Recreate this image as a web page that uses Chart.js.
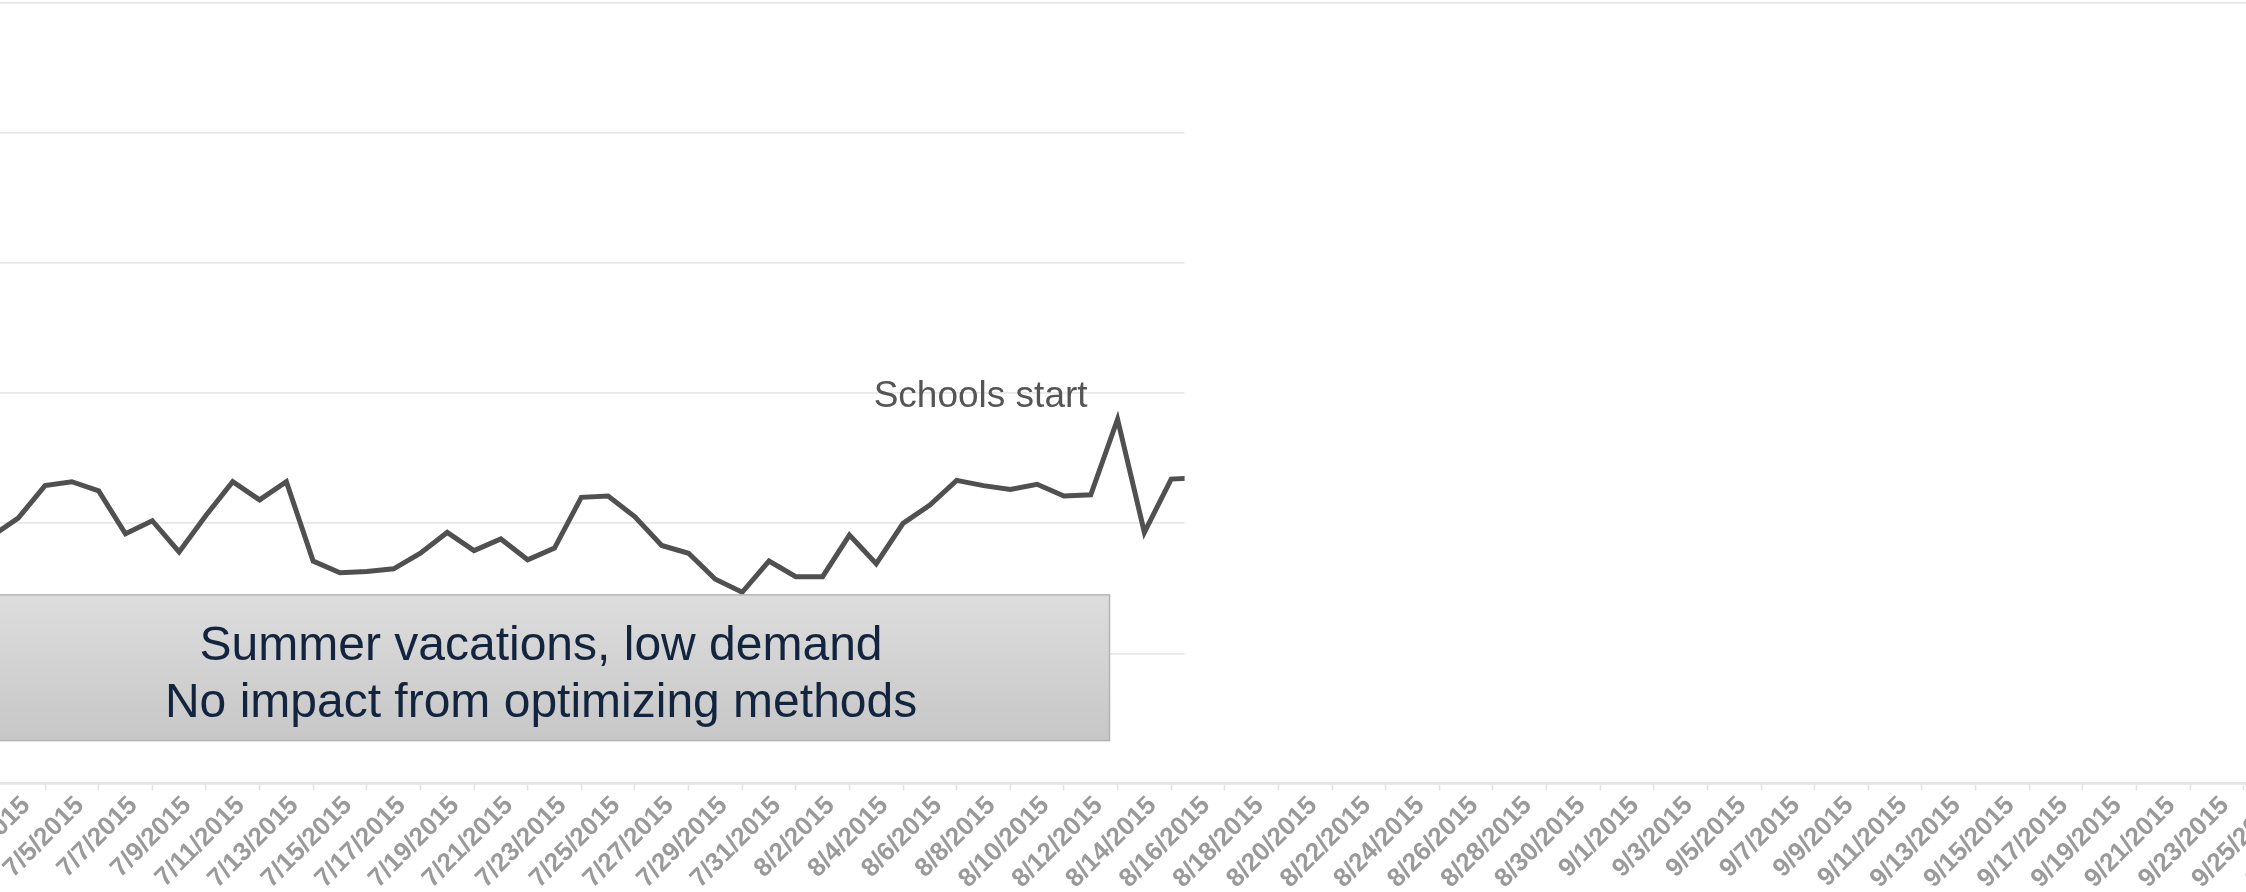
<!DOCTYPE html>
<html>
<head>
<meta charset="utf-8">
<title>Daily demand, summer 2015</title>
<script src="https://cdn.jsdelivr.net/npm/chart.js@4.4.1/dist/chart.umd.min.js"></script>
<style>
  html, body { margin: 0; padding: 0; background: #fff; overflow: hidden; }
  #wrap { position: relative; width: 2246px; height: 892px; overflow: hidden; }
  /* plot is wider than the page, both ends run off the edges */
  #demandChart { position: absolute; left: -22px; top: 0; }
</style>
</head>
<body>
<div id="wrap">
  <canvas id="demandChart" width="2440" height="892"></canvas>
</div>
<script>
// one category per day, 7/2/2015 .. 9/30/2015
const days = [
  "7/2/2015", "7/3/2015", "7/4/2015", "7/5/2015", "7/6/2015", "7/7/2015", "7/8/2015", "7/9/2015",
  "7/10/2015", "7/11/2015", "7/12/2015", "7/13/2015", "7/14/2015", "7/15/2015", "7/16/2015",
  "7/17/2015", "7/18/2015", "7/19/2015", "7/20/2015", "7/21/2015", "7/22/2015", "7/23/2015",
  "7/24/2015", "7/25/2015", "7/26/2015", "7/27/2015", "7/28/2015", "7/29/2015", "7/30/2015",
  "7/31/2015", "8/1/2015", "8/2/2015", "8/3/2015", "8/4/2015", "8/5/2015", "8/6/2015",
  "8/7/2015", "8/8/2015", "8/9/2015", "8/10/2015", "8/11/2015", "8/12/2015", "8/13/2015",
  "8/14/2015", "8/15/2015", "8/16/2015", "8/17/2015", "8/18/2015", "8/19/2015", "8/20/2015",
  "8/21/2015", "8/22/2015", "8/23/2015", "8/24/2015", "8/25/2015", "8/26/2015", "8/27/2015",
  "8/28/2015", "8/29/2015", "8/30/2015", "8/31/2015", "9/1/2015", "9/2/2015", "9/3/2015",
  "9/4/2015", "9/5/2015", "9/6/2015", "9/7/2015", "9/8/2015", "9/9/2015", "9/10/2015",
  "9/11/2015", "9/12/2015", "9/13/2015", "9/14/2015", "9/15/2015", "9/16/2015", "9/17/2015",
  "9/18/2015", "9/19/2015", "9/20/2015", "9/21/2015", "9/22/2015", "9/23/2015", "9/24/2015",
  "9/25/2015", "9/26/2015", "9/27/2015", "9/28/2015", "9/29/2015", "9/30/2015"
];

// daily demand, known up to 8/16
const demand = [
  190, 204, 229, 232, 225, 192, 202, 178, 206, 232, 218, 232, 171, 162, 163,
  165, 177, 193, 179, 188, 172, 181, 220, 221, 205, 183, 177, 157, 147, 171,
  159, 159, 191, 169, 200, 214, 233, 229, 226, 230, 221, 222, 280, 193, 234,
  235
];

// value axis
const yMin = 0;
const yMax = 600;
const yStep = 100;

// everything after this day stays blanked out
const lastShownDay = "8/15/2015";

const peakNote = { day: "8/13/2015", text: "Schools start" };
const summerNote = {
  from: -0.7, to: 41.7,   // category index range
  low: 33, high: 145,     // value range
  lines: ["Summer vacations, low demand", "No impact from optimizing methods"]
};

const FONT = "'Liberation Sans', Arial, Helvetica, sans-serif";

// white panel over the not-yet-shown part of the plot
const hideFuture = {
  id: "hideFuture",
  afterDatasetsDraw(chart) {
    const { ctx, chartArea, scales } = chart;
    const x = scales.x;
    const idx = days.indexOf(lastShownDay);
    const half = (x.getPixelForValue(1) - x.getPixelForValue(0)) / 2;
    const left = x.getPixelForValue(idx) + half;
    ctx.save();
    ctx.fillStyle = "#ffffff";
    ctx.fillRect(left, chartArea.top + 3, chart.width - left, chartArea.bottom - chartArea.top - 5);
    ctx.restore();
  }
};

// text notes on the plot
const notes = {
  id: "notes",
  afterDraw(chart) {
    const { ctx, scales } = chart;
    const x = scales.x, y = scales.y;

    // grey box along the summer lull
    const bx1 = x.getPixelForValue(summerNote.from);
    const bx2 = x.getPixelForValue(summerNote.to);
    const by1 = y.getPixelForValue(summerNote.high);
    const by2 = y.getPixelForValue(summerNote.low);
    ctx.save();
    const grad = ctx.createLinearGradient(0, by1, 0, by2);
    grad.addColorStop(0, "#dddddd");
    grad.addColorStop(1, "#c7c7c7");
    ctx.fillStyle = grad;
    ctx.fillRect(bx1, by1, bx2 - bx1, by2 - by1);
    ctx.strokeStyle = "#b3b3b3";
    ctx.lineWidth = 1.5;
    ctx.strokeRect(bx1, by1, bx2 - bx1, by2 - by1);
    ctx.fillStyle = "#13243f";
    ctx.font = "48px " + FONT;
    ctx.textAlign = "center";
    ctx.textBaseline = "middle";
    const cx = (bx1 + bx2) / 2, cy = (by1 + by2) / 2;
    ctx.fillText(summerNote.lines[0], cx, cy - 21);
    ctx.fillText(summerNote.lines[1], cx, cy + 36);

    // label left of the school-start spike
    const pi = days.indexOf(peakNote.day);
    const px = x.getPixelForValue(pi);
    const py = y.getPixelForValue(demand[pi]);
    ctx.fillStyle = "#555555";
    ctx.font = "37px " + FONT;
    ctx.textAlign = "right";
    ctx.textBaseline = "alphabetic";
    ctx.fillText(peakNote.text, px - 30, py - 12);
    ctx.restore();
  }
};

new Chart(document.getElementById("demandChart"), {
  type: "line",
  data: {
    labels: days,
    datasets: [{
      label: "Demand",
      data: demand,
      borderColor: "#505050",
      borderWidth: 5,
      borderJoinStyle: "miter",
      pointRadius: 0,
      tension: 0,
      fill: false
    }]
  },
  options: {
    responsive: false,
    animation: false,
    layout: { autoPadding: false, padding: { top: 3, left: 0, right: 0, bottom: 0 } },
    plugins: { legend: { display: false }, tooltip: { enabled: false } },
    scales: {
      x: {
        offset: true,
        grid: {
          offset: true,
          drawOnChartArea: false,
          drawTicks: true,
          tickLength: 7,
          tickColor: "#e2e2e2",
          tickWidth: 1.5
        },
        border: { color: "#e6e6e6", width: 2.5 },
        ticks: {
          autoSkip: false,
          minRotation: 45,
          maxRotation: 45,
          padding: 0,
          labelOffset: 8,
          color: "#9a9a9a",
          font: { family: FONT, size: 26, weight: "bold" },
          // label every other day, starting on the 3rd
          callback(value, i) {
            return i % 2 === 1 ? days[i] : null;
          }
        },
        afterFit(scale) {
          scale.height = 108.5;
          scale.paddingLeft = 0;
          scale.paddingRight = 0;
        }
      },
      y: {
        min: yMin,
        max: yMax,
        ticks: { display: false, stepSize: yStep },
        border: { display: false },
        grid: { color: "#e8e8e8", lineWidth: 1.7, drawTicks: false },
        afterFit(scale) { scale.width = 0; }
      }
    }
  },
  plugins: [hideFuture, notes]
});
</script>
</body>
</html>
